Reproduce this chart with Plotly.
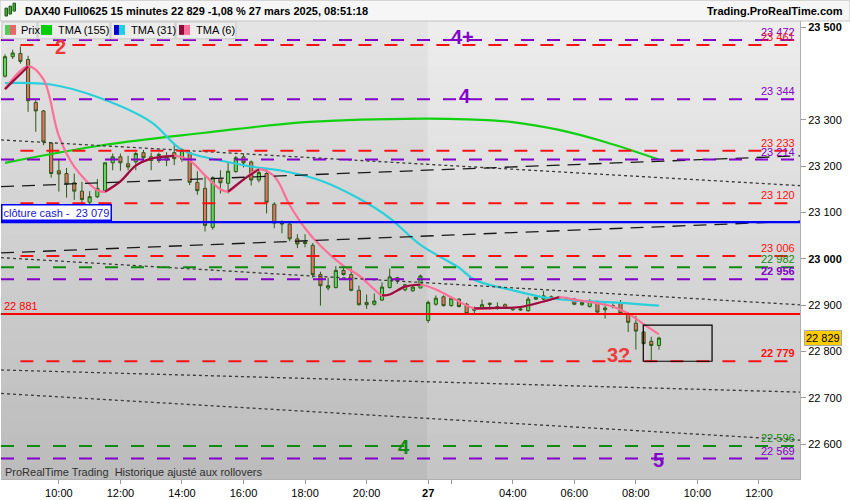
import plotly.graph_objects as go

# 15 min bars: 0 = 26 mars 08:15 ... 54 = 21:45, 55 = 27 mars 01:15 ... 85 = 08:45
bar_open = [23394, 23436, 23443, 23430, 23337, 23319, 23250, 23190, 23184, 23164,
            23146, 23122, 23134, 23147, 23207, 23220, 23205, 23209, 23229, 23220,
            23212, 23213, 23229, 23215, 23229, 23165, 23152, 23068, 23173, 23163,
            23188, 23220, 23209, 23170, 23184, 23118, 23078, 23075, 23043, 23033,
            23029, 22966, 22937, 22938, 22975, 22966, 22932, 22906, 22902, 22911,
            22938, 22959, 22933, 22931, 22937, 22867, 22902, 22918, 22899, 22913,
            22902, 22889, 22892, 22904, 22897, 22901, 22890, 22892, 22888, 22913,
            22913, 22913, 22915, 22915, 22913, 22901, 22897, 22904, 22894, 22897,
            22904, 22882, 22861, 22842, 22822, 22813]
bar_high = [23441, 23451, 23458, 23438, 23343, 23321, 23252, 23216, 23196, 23184,
            23166, 23146, 23172, 23208, 23227, 23227, 23222, 23231, 23235, 23229,
            23229, 23230, 23250, 23238, 23234, 23189, 23178, 23178, 23191, 23209,
            23222, 23227, 23212, 23195, 23195, 23122, 23083, 23079, 23053, 23053,
            23034, 22972, 22959, 22984, 22982, 22979, 22942, 22923, 22925, 22949,
            22979, 22961, 22946, 22942, 22966, 22910, 22921, 22921, 22918, 22915,
            22905, 22897, 22912, 22906, 22906, 22904, 22895, 22894, 22918, 22918,
            22931, 22921, 22920, 22918, 22916, 22910, 22913, 22910, 22904, 22904,
            22911, 22884, 22877, 22844, 22832, 22832]
bar_low = [23391, 23431, 23421, 23317, 23274, 23245, 23175, 23145, 23132, 23127,
           23120, 23116, 23131, 23143, 23191, 23190, 23191, 23191, 23207, 23191,
           23207, 23200, 23202, 23209, 23159, 23138, 23059, 23063, 23141, 23141,
           23186, 23197, 23158, 23165, 23098, 23066, 23055, 23038, 23023, 23025,
           22959, 22899, 22932, 22936, 22964, 22930, 22899, 22892, 22899, 22909,
           22936, 22946, 22930, 22929, 22937, 22862, 22899, 22897, 22897, 22895,
           22880, 22880, 22890, 22890, 22890, 22892, 22888, 22888, 22886, 22911,
           22911, 22911, 22911, 22911, 22900, 22899, 22895, 22882, 22871, 22893,
           22880, 22842, 22804, 22815, 22777, 22804]
bar_close = [23436, 23444, 23426, 23341, 23319, 23252, 23184, 23183, 23161, 23146,
             23128, 23134, 23152, 23207, 23220, 23207, 23198, 23227, 23218, 23212,
             23225, 23220, 23216, 23234, 23165, 23147, 23072, 23175, 23164, 23189,
             23218, 23207, 23170, 23186, 23122, 23077, 23075, 23043, 23032, 23036,
             22966, 22942, 22942, 22975, 22966, 22932, 22901, 22901, 22909, 22939,
             22961, 22952, 22944, 22939, 22963, 22906, 22915, 22899, 22915, 22897,
             22882, 22894, 22901, 22902, 22895, 22894, 22893, 22890, 22913, 22917,
             22920, 22918, 22917, 22914, 22902, 22906, 22908, 22885, 22890, 22899,
             22882, 22863, 22844, 22817, 22813, 22829]
bar_idx = list(range(len(bar_open)))

tma155_x = [0, 13, 26, 39, 52, 60, 66, 72, 78, 85]
tma155_y = [23207, 23246, 23272, 23295, 23302, 23301, 23295, 23278, 23252, 23214]

tma31_x = [0, 6, 12, 19, 23, 28, 32, 36, 41, 46, 50, 54, 59, 61, 66, 70, 74, 79, 85]
tma31_y = [23379, 23376, 23349, 23295, 23235, 23212, 23199, 23190, 23169, 23130,
           23088, 23030, 22981, 22955, 22932, 22917, 22910, 22906, 22899]

tma6_x = [0, 3, 5, 7, 9, 12, 13, 15, 17, 19, 22, 24, 26, 28, 29, 31, 33, 35, 37, 39,
          41, 44, 46, 48, 49, 50, 52, 54, 56, 58, 61, 64, 67, 70, 72, 74, 77, 79,
          81, 83, 85]
tma6_y = [23366, 23415, 23387, 23265, 23199, 23148, 23145, 23167, 23201, 23216,
          23222, 23212, 23180, 23150, 23145, 23171, 23193, 23178, 23116, 23066,
          23028, 22985, 22964, 22934, 22921, 22923, 22940, 22944, 22934, 22917,
          22893, 22894, 22896, 22908, 22917, 22912, 22904, 22897, 22882, 22859,
          22837]

level_values = [23472, 23461, 23344, 23233, 23214, 23120, 23006, 22982, 22956,
                22779, 22596, 22569]
level_kinds = ["p", "r", "p", "r", "p", "r", "r", "g", "p", "r", "g", "p"]
level_bold = [False, False, False, False, False, False, False, False, True,
              True, False, False]

cash_close = 23079
pivot_level = 22881
last_price = 22829

trend_p0 = [23256, 23156, 23013, 23002, 22760, 22709]    # price at bar 0
trend_p100 = [23161, 23220, 23079, 22904, 22714, 22612]  # price at bar 100
trend_long = [False, True, True, False, False, False]

box_x = [82.96, 91.9]
box_y = [22779, 22857]

tick_pos = [7, 15, 23, 31, 39, 47, 55, 58, 66, 74, 82, 90, 98]
tick_text = ["10:00", "12:00", "14:00", "16:00", "18:00", "20:00", "<b>27</b>", "",
             "04:00", "06:00", "08:00", "10:00", "12:00"]
ytick_vals = [22600, 22700, 22800, 22900, 23000, 23100, 23200, 23300, 23500]
ytick_text = ["22 600", "22 700", "22 800", "22 900", "<b>23 000</b>", "23 100",
              "23 200", "23 300", "<b>23 500</b>"]

marks_text = ["2", "4+", "4", "3?", "4", "5"]
marks_x = [7.2, 59.5, 59.8, 79.8, 51.8, 84.9]
marks_y = [23457, 23478, 23352, 22793, 22594, 22566]
marks_kind = ["r", "p", "p", "r", "g", "p"]

COL = {"p": "#8200c8", "r": "#ff1010", "g": "#108a10"}
X0, X1 = -0.52, 103.33
Y0, Y1 = 22525, 23513
FONT = "Liberation Sans, Arial, sans-serif"


def fmt(v):
    return f"{v:,}".replace(",", " ")


def px(x):
    return (x - 1) / 799


def py(y):
    return (483 - y) / 462


fig = go.Figure()

# background gradient, darker for the 26 mars session
shapes = []
nb = 30
for k in range(nb):
    t = k / (nb - 1)
    cl = int(188 + (228 - 188) * t)
    cr = int(197 + (237 - 197) * t)
    for xa, xb, c in [(X0, 54.9, cl), (54.9, X1, cr)]:
        shapes.append(dict(type="rect", xref="x", yref="paper", x0=xa, x1=xb,
                           y0=k / nb, y1=(k + 1) / nb + 0.002, layer="below",
                           line_width=0, fillcolor=f"rgb({c},{c},{c})"))

# trend lines
for a, b, lg in zip(trend_p0, trend_p100, trend_long):
    s = (b - a) / 100
    shapes.append(dict(type="line", xref="x", yref="y", x0=X0, x1=X1,
                       y0=a + s * X0, y1=a + s * X1,
                       line=dict(color="#1a1a1a" if lg else "#3a3a3a", width=1.3,
                                 dash="13px,8px" if lg else "3px,3px")))

# horizontal levels
for v, k in zip(level_values, level_kinds):
    shapes.append(dict(type="line", xref="x", yref="y", x0=2 if k == "r" else X0,
                       x1=X1, y0=v, y1=v,
                       line=dict(color=COL[k], width=2, dash="13px,13px")))
shapes.append(dict(type="line", xref="x", yref="y", x0=X0, x1=X1, y0=cash_close,
                   y1=cash_close, line=dict(color="#0000ff", width=2.2)))
shapes.append(dict(type="line", xref="x", yref="y", x0=X0, x1=X1, y0=pivot_level,
                   y1=pivot_level, line=dict(color="#ff0000", width=2)))
shapes.append(dict(type="rect", xref="x", yref="y", x0=box_x[0], x1=box_x[1],
                   y0=box_y[0], y1=box_y[1], line=dict(color="#000000", width=1.2)))

# header and legend boxes
shapes.append(dict(type="rect", xref="paper", yref="paper", x0=px(0), x1=px(850),
                   y0=py(21), y1=py(0), fillcolor="#f6f6f6",
                   line=dict(color="#c4c4c4", width=1)))
for xa, xb in [(2, 37), (38, 110), (111, 175), (176, 236)]:
    shapes.append(dict(type="rect", xref="paper", yref="paper", x0=px(xa), x1=px(xb),
                       y0=py(39), y1=py(22), fillcolor="#ececec",
                       line=dict(color="#c8c8c8", width=1)))
for xa, xb, c in [(5, 10, "#55c855"), (10, 16, "#e46a6a"), (41, 52, "#00cc00"),
                  (114, 119, "#0000cc"), (119, 125, "#22cfe0"),
                  (179, 184, "#8c0c3a"), (184, 190, "#ff6f9c")]:
    shapes.append(dict(type="rect", xref="paper", yref="paper", x0=px(xa), x1=px(xb),
                       y0=py(35), y1=py(25), fillcolor=c, line_width=0))
for xa, ya, yb, c in [(5, 8, 16, "#3caa3c"), (9, 6, 14, "#3caa3c"), (13, 3, 11, "#3caa3c")]:
    shapes.append(dict(type="rect", xref="paper", yref="paper", x0=px(xa),
                       x1=px(xa + 2.5), y0=py(yb), y1=py(ya), fillcolor=c,
                       line=dict(color="#245a12", width=1)))

fig.add_trace(go.Candlestick(
    x=bar_idx, open=bar_open, high=bar_high, low=bar_low, close=bar_close,
    increasing=dict(line=dict(color="#2b5a14", width=1), fillcolor="#5fd85f"),
    decreasing=dict(line=dict(color="#2b5a14", width=1), fillcolor="#e8706a"),
    whiskerwidth=0, showlegend=False, hoverinfo="skip"))

fig.add_trace(go.Scatter(x=tma155_x, y=tma155_y, mode="lines", line_shape="spline",
                         line=dict(color="#10d010", width=2.2), showlegend=False))
fig.add_trace(go.Scatter(x=tma31_x, y=tma31_y, mode="lines", line_shape="spline",
                         line=dict(color="#28d0dc", width=2.2), showlegend=False))
fig.add_trace(go.Scatter(x=tma6_x, y=tma6_y, mode="lines", line_shape="spline",
                         line=dict(color="#ff6f98", width=2.2), showlegend=False))
# rising parts of TMA(6) in dark red
rx, ry = [], []
for j in range(len(tma6_x) - 1):
    if tma6_y[j + 1] >= tma6_y[j]:
        if rx and rx[-1] == tma6_x[j]:
            rx.append(tma6_x[j + 1]); ry.append(tma6_y[j + 1])
        else:
            rx += [None, tma6_x[j], tma6_x[j + 1]]
            ry += [None, tma6_y[j], tma6_y[j + 1]]
fig.add_trace(go.Scatter(x=rx, y=ry, mode="lines", line_shape="spline",
                         line=dict(color="#980f3e", width=2.2), showlegend=False))

ann = []
for v, k, b in zip(level_values, level_kinds, level_bold):
    t = fmt(v)
    ann.append(dict(xref="paper", yref="y", x=px(797), y=v, xanchor="right",
                    yanchor="middle", yshift=8, showarrow=False,
                    text=f"<b>{t}</b>" if b else t,
                    font=dict(family=FONT, size=11, color=COL[k])))
ann.append(dict(xref="paper", yref="y", x=px(1), y=cash_close, xanchor="left",
                yanchor="bottom", yshift=1, showarrow=False,
                text="clôture cash -  " + fmt(cash_close), bgcolor="#ffffff",
                bordercolor="#0000ff", borderwidth=1.5, borderpad=1,
                font=dict(family=FONT, size=11, color="#1515d0")))
ann.append(dict(xref="paper", yref="y", x=px(2), y=pivot_level, xanchor="left",
                yanchor="middle", yshift=8, showarrow=False, text=fmt(pivot_level),
                font=dict(family=FONT, size=11, color="#ff0000")))
ann.append(dict(xref="paper", yref="y", x=1, y=last_price, xanchor="left",
                yanchor="middle", xshift=4, showarrow=False, text=fmt(last_price),
                bgcolor="#ffcc00", bordercolor="#a8a8a8", borderwidth=1, borderpad=1,
                font=dict(family=FONT, size=11, color="#000000")))
for t, x, y, k in zip(marks_text, marks_x, marks_y, marks_kind):
    ann.append(dict(xref="x", yref="y", x=x, y=y, showarrow=False,
                    text=f"<b>{t}</b>",
                    font=dict(family=FONT, size=20,
                              color="#ee3a3a" if k == "r" else COL[k])))
ann.append(dict(xref="paper", yref="paper", x=px(23), y=py(11), xanchor="left",
                yanchor="middle", showarrow=False,
                text="<b>DAX40 Full0625 15 minutes " + fmt(last_price)
                     + " -1,08 % 27 mars 2025, 08:51:18</b>",
                font=dict(family=FONT, size=11, color="#000000")))
ann.append(dict(xref="paper", yref="paper", x=px(845), y=py(11), xanchor="right",
                yanchor="middle", showarrow=False, text="<b>Trading.ProRealTime.com</b>",
                font=dict(family=FONT, size=11, color="#000000")))
for xa, t in [(19, "Prix"), (56, "TMA (155)"), (129, "TMA (31)"), (194, "TMA (6)")]:
    ann.append(dict(xref="paper", yref="paper", x=px(xa), y=py(30.5), xanchor="left",
                    yanchor="middle", showarrow=False, text=t,
                    font=dict(family=FONT, size=11, color="#000000")))
ann.append(dict(xref="paper", yref="paper", x=px(3), y=py(476), xanchor="left",
                yanchor="middle", showarrow=False,
                text="ProRealTime Trading  Historique ajusté aux rollovers",
                font=dict(family=FONT, size=11, color="#303030")))

fig.update_layout(
    width=850, height=500, margin=dict(l=1, r=50, t=21, b=17),
    paper_bgcolor="#ffffff", plot_bgcolor="#d0d0d0",
    shapes=shapes, annotations=ann, boxgap=0.42, hovermode=False,
    font=dict(family=FONT, size=11, color="#000000"),
    xaxis=dict(range=[X0, X1], tickvals=tick_pos, ticktext=tick_text,
               showgrid=False, zeroline=False, ticks="outside", ticklen=4,
               tickcolor="#9a9a9a", rangeslider=dict(visible=False),
               showline=True, linecolor="#b0b0b0", tickfont=dict(size=11)),
    yaxis=dict(range=[Y0, Y1], side="right", tickvals=ytick_vals, ticktext=ytick_text,
               showgrid=False, zeroline=False, ticks="outside", ticklen=5,
               tickcolor="#9a9a9a", showline=True, linecolor="#b0b0b0",
               tickfont=dict(size=11)),
)

fig.write_html("out.html", config={"displayModeBar": False},
               post_script="document.body.style.margin='0';")
